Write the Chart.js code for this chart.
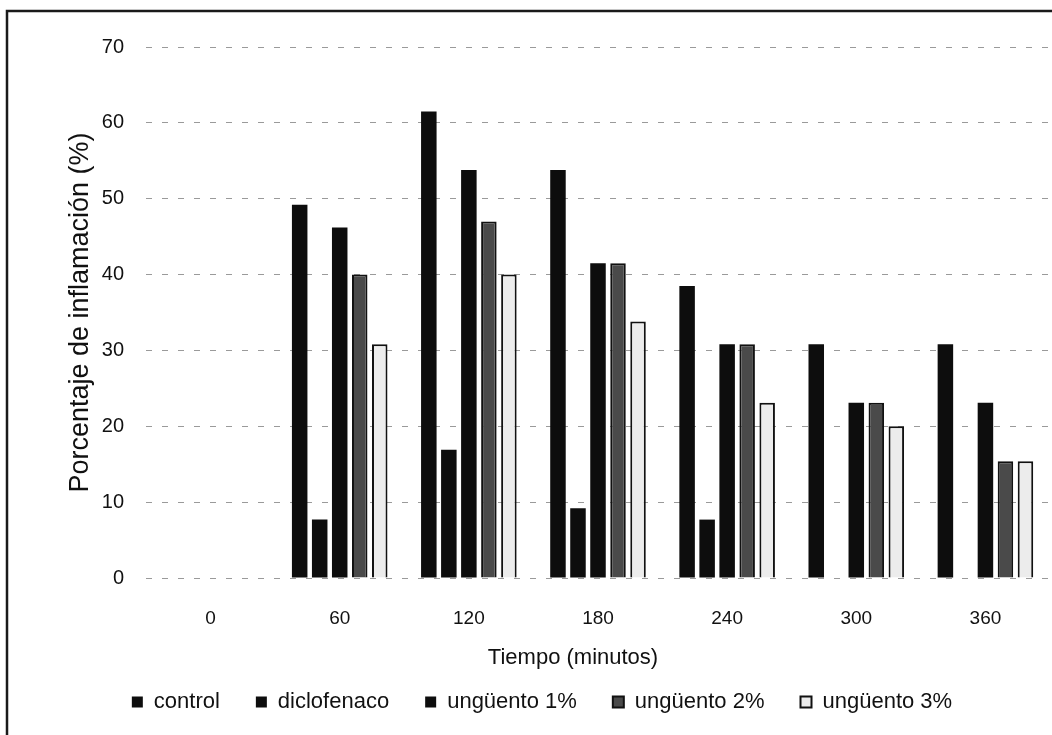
<!DOCTYPE html>
<html>
<head>
<meta charset="utf-8">
<title>Porcentaje de inflamación</title>
<script src="https://cdn.jsdelivr.net/npm/chart.js@4.4.1/dist/chart.umd.min.js"></script>
<style>
  html, body { margin: 0; padding: 0; background: #fff; }
  #wrap { width: 1052px; height: 735px; position: relative; }
</style>
</head>
<body>
<div id="wrap"><canvas id="inflChart" width="1052" height="735"></canvas></div>
<script>
// minutes after application
const tiempos = ['0', '60', '120', '180', '240', '300', '360'];

// % inflammation per group
const control     = [0, 49.2, 61.5, 53.8, 38.5, 30.8, 30.8];
const diclofenaco = [0, 7.7, 16.9, 9.2, 7.7, 0, 0];
const ungUno      = [0, 46.2, 53.8, 41.5, 30.8, 23.1, 23.1];
const ungDos      = [0, 40.0, 47.0, 41.5, 30.8, 23.1, 15.4];
const ungTres     = [0, 30.8, 40.0, 33.8, 23.1, 20.0, 15.4];

const yTicks = [0, 10, 20, 30, 40, 50, 60, 70];

const FONT = '"Liberation Sans", Arial, sans-serif';
const X_TITLE = 'Tiempo (minutos)';

// white page with the dark frame on the top and left edges
const framePlugin = {
    id: 'frame',
    beforeDraw(chart) {
        const ctx = chart.ctx;
        ctx.save();
        ctx.fillStyle = '#fff';
        ctx.fillRect(0, 0, chart.width, chart.height);
        ctx.strokeStyle = '#1a1a1a';
        ctx.lineWidth = 2.5;
        ctx.beginPath();
        ctx.moveTo(7, chart.height);
        ctx.lineTo(7, 11);
        ctx.lineTo(chart.width, 11);
        ctx.stroke();
        ctx.restore();
    }
};

// x axis title sits a bit left of the plot centre, above the legend
const xTitlePlugin = {
    id: 'xTitle',
    afterDraw(chart) {
        const ctx = chart.ctx;
        const x = chart.scales.x;
        ctx.save();
        ctx.fillStyle = '#111';
        ctx.font = '22px ' + FONT;
        ctx.textAlign = 'center';
        ctx.textBaseline = 'middle';
        ctx.fillText(X_TITLE, (x.left + x.right) / 2 - 25, x.bottom + 3);
        ctx.restore();
    }
};

function bars(label, data, fill, border, bw) {
    return {
        label: label,
        data: data,
        backgroundColor: fill,
        borderColor: border,
        borderWidth: bw,
        borderSkipped: 'start'
    };
}

new Chart(document.getElementById('inflChart'), {
    type: 'bar',
    data: {
        labels: tiempos,
        datasets: [
            bars('control', control, '#0d0d0d', '#0d0d0d', 0),
            bars('diclofenaco', diclofenaco, '#0d0d0d', '#0d0d0d', 0),
            bars('ungüento 1%', ungUno, '#0d0d0d', '#0d0d0d', 0),
            bars('ungüento 2%', ungDos, '#4a4a4a', '#111', 2),
            bars('ungüento 3%', ungTres, '#ececec', '#111', 2)
        ]
    },
    plugins: [framePlugin, xTitlePlugin],
    options: {
        responsive: false,
        animation: false,
        layout: { padding: { top: 47, right: 2, bottom: 12, left: 34 } },
        datasets: {
            bar: { categoryPercentage: 0.775, barPercentage: 0.775 }
        },
        plugins: {
            tooltip: { enabled: false },
            legend: {
                position: 'bottom',
                labels: {
                    color: '#111',
                    font: { family: FONT, size: 22 },
                    boxWidth: 11,
                    boxHeight: 11,
                    padding: 36
                }
            }
        },
        scales: {
            x: {
                grid: { display: false, drawTicks: false },
                border: { display: false },
                ticks: {
                    color: '#111',
                    font: { family: FONT, size: 19 },
                    padding: 29,
                    maxRotation: 0
                },
                afterFit(scale) { scale.height = 77; }
            },
            y: {
                min: 0,
                max: 70,
                afterBuildTicks(scale) {
                    scale.ticks = yTicks.map(v => ({ value: v }));
                },
                grid: {
                    color: '#9a9a9a',
                    lineWidth: 1,
                    drawTicks: false
                },
                border: { display: false, dash: [6, 10] },
                ticks: {
                    color: '#111',
                    font: { family: FONT, size: 20 },
                    padding: 22
                },
                title: {
                    display: true,
                    text: 'Porcentaje de inflamación (%)',
                    color: '#111',
                    font: { family: FONT, size: 27 },
                    padding: { top: 30, bottom: 0 }
                },
                afterFit(scale) { scale.width = 112; }
            }
        }
    }
});
</script>
</body>
</html>
